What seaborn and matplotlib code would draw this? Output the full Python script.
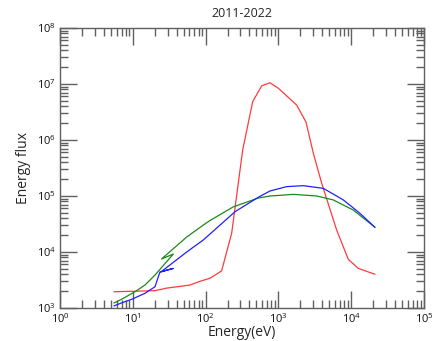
import numpy as np
import pandas as pd
import matplotlib
matplotlib.use("Agg")
import matplotlib.pyplot as plt
import seaborn as sns
from matplotlib.ticker import LogLocator, NullFormatter

# ---- data ----
title = "2011-2022"
xlabel = "Energy(eV)"
ylabel = "Energy flux"

red_energy = [5.5, 20.2, 29.5, 61, 84, 115, 166, 228, 323, 443, 590, 767, 997,
              1785, 2390, 3020, 3930, 6310, 9120, 12500, 21200]
red_flux = [1.95e3, 2.04e3, 2.27e3, 2.57e3, 3.0e3, 3.4e3, 4.6e3, 2.16e4, 6.6e5,
            4.83e6, 9.3e6, 1.05e7, 8.4e6, 4.2e6, 2.1e6, 5.8e5, 1.69e5, 2.47e4,
            7.4e3, 5.1e3, 4.0e3]

green_energy = [5.5, 7.0, 10.7, 14.7, 20.2, 36,
                24.8, 55, 93, 115, 240, 530, 767, 1600, 3360, 5680, 10700, 21200]
green_flux = [1.23e3, 1.43e3, 1.95e3, 2.57e3, 3.88e3, 9.2e3,
              7.5e3, 1.85e4, 3.03e4, 3.65e4, 6.4e4, 9.2e4, 1.0e5, 1.07e5,
              1.0e5, 8.5e4, 5.6e4, 2.76e4]

blue_energy = [5.5, 7.1, 9.7, 14.7, 20.2, 23.6, 36,
               24.3, 55, 93, 158, 254, 530, 767, 1300, 2200, 4140, 7800, 13200, 21200]
blue_flux = [1.09e3, 1.24e3, 1.43e3, 1.83e3, 2.4e3, 4.4e3, 5.1e3,
             4.4e3, 1.0e4, 1.64e4, 3.03e4, 5.25e4, 9.5e4, 1.23e5, 1.47e5,
             1.53e5, 1.37e5, 8.5e4, 4.9e4, 2.76e4]

x_limits = (1, 1e5)
y_limits = (1e3, 1e8)

# ---- style ----
sns.set_style("ticks")
plt.rcParams["font.family"] = ["Open Sans", "DejaVu Sans"]
plt.rcParams["mathtext.fontset"] = "custom"
plt.rcParams["mathtext.rm"] = "Open Sans"
plt.rcParams["mathtext.it"] = "Open Sans"

fig = plt.figure(figsize=(4.32, 3.41), dpi=100)
ax = fig.add_axes([60 / 432, 33 / 341, 364 / 432, 280 / 341])

series = [
    (red_energy, red_flux, "#ff3a3a"),
    (green_energy, green_flux, "#1a8a1a"),
    (blue_energy, blue_flux, "#2020ff"),
]
for e, f, c in series:
    df = pd.DataFrame({"energy": e, "flux": f})
    sns.lineplot(data=df, x="energy", y="flux", sort=False, estimator=None,
                 color=c, linewidth=0.9, ax=ax)

ax.set_xscale("log")
ax.set_yscale("log")
ax.set_xlim(*x_limits)
ax.set_ylim(*y_limits)

ax.xaxis.set_major_locator(LogLocator(base=10, numticks=10))
ax.yaxis.set_major_locator(LogLocator(base=10, numticks=10))
ax.xaxis.set_minor_locator(LogLocator(base=10, subs=np.arange(2, 10), numticks=20))
ax.yaxis.set_minor_locator(LogLocator(base=10, subs=np.arange(2, 10), numticks=20))
ax.xaxis.set_minor_formatter(NullFormatter())
ax.yaxis.set_minor_formatter(NullFormatter())

axis_col = "#606060"
for s in ax.spines.values():
    s.set_color(axis_col)
    s.set_linewidth(1.0)
ax.tick_params(which="both", direction="in", top=True, right=True, color=axis_col,
               width=1.0, labelsize=8, labelcolor="#111111")
ax.tick_params(which="major", length=12, pad=3)
ax.tick_params(which="minor", length=6)

ax.set_title(title, fontsize=9, pad=8)
ax.set_xlabel(xlabel, fontsize=10, labelpad=-1)
ax.set_ylabel(ylabel, fontsize=10, labelpad=4)

fig.savefig("out.png", dpi=100)
